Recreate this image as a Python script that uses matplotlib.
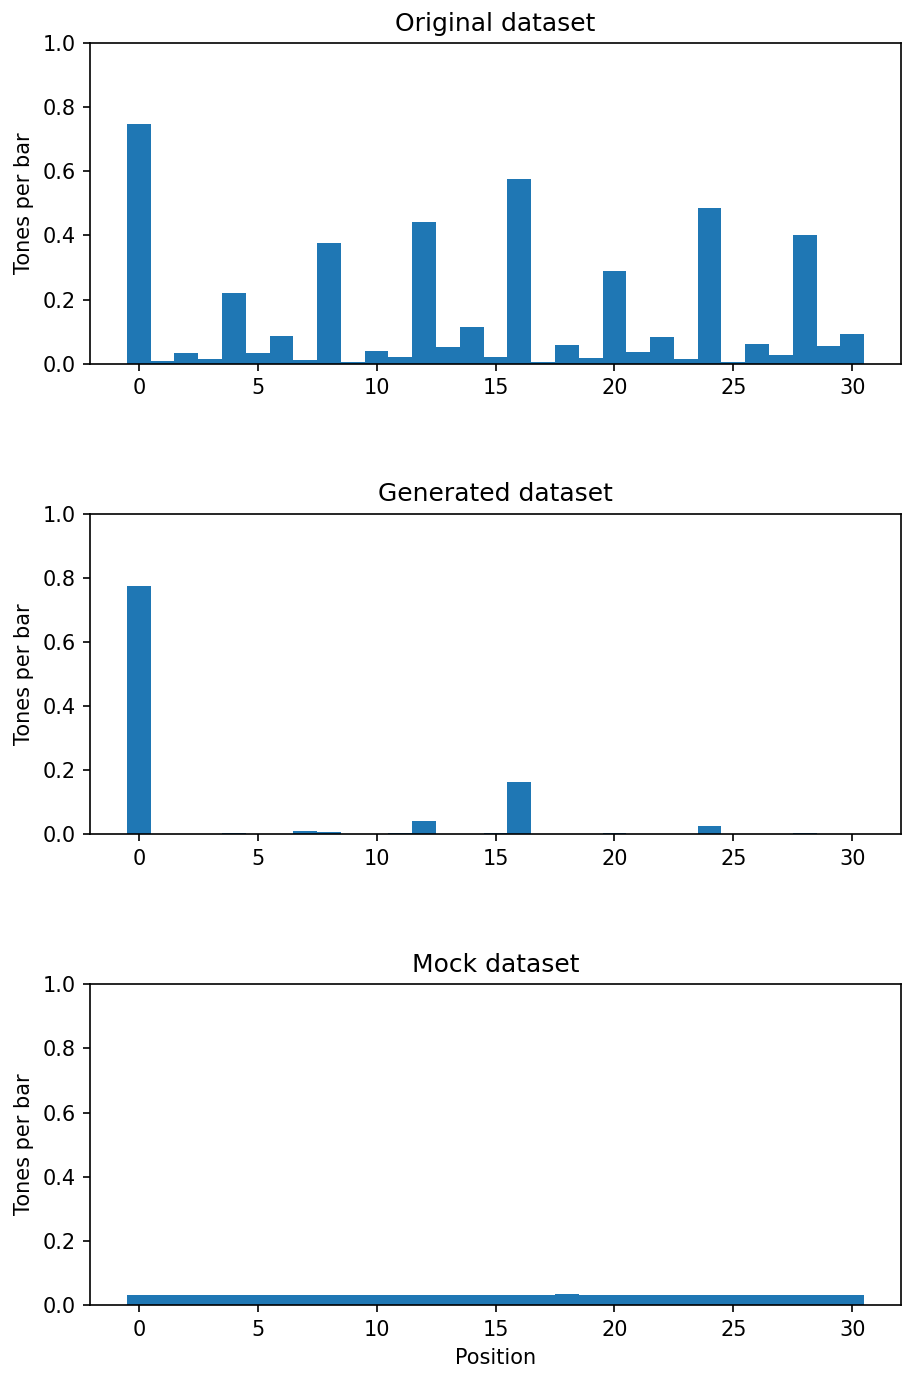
import numpy as np
import matplotlib
matplotlib.use("Agg")
import matplotlib.pyplot as plt

positions = np.arange(31)

original = [0.748, 0.009, 0.034, 0.016, 0.221, 0.034, 0.087, 0.012, 0.377, 0.006,
            0.040, 0.022, 0.442, 0.053, 0.115, 0.022, 0.576, 0.006, 0.059, 0.019,
            0.290, 0.037, 0.084, 0.016, 0.486, 0.006, 0.062, 0.028, 0.402, 0.056,
            0.093]
generated = [0.773, 0.0, 0.0, 0.0, 0.005, 0.001, 0.0, 0.011, 0.008, 0.0,
             0.001, 0.004, 0.043, 0.0, 0.0, 0.004, 0.164, 0.0, 0.0, 0.0,
             0.004, 0.001, 0.001, 0.0, 0.025, 0.001, 0.0, 0.001, 0.004, 0.001,
             0.0]
mock = [0.031] * 18 + [0.034] + [0.031] * 12

panels = [("Original dataset", original),
          ("Generated dataset", generated),
          ("Mock dataset", mock)]

fig, axes = plt.subplots(3, 1, figsize=(905 / 150, 1374 / 150), dpi=150)
fig.subplots_adjust(left=90 / 905, right=901 / 905, top=1 - 43 / 1374,
                    bottom=1 - 1305 / 1374, hspace=150 / 321)

for ax, (title, vals) in zip(axes, panels):
    ax.bar(positions, vals, width=1.0, color="#1f77b4")
    ax.set_ylim(0, 1)
    ax.set_title(title)
    ax.set_ylabel("Tones per bar")
axes[-1].set_xlabel("Position")

fig.savefig("out.png", dpi=150)
